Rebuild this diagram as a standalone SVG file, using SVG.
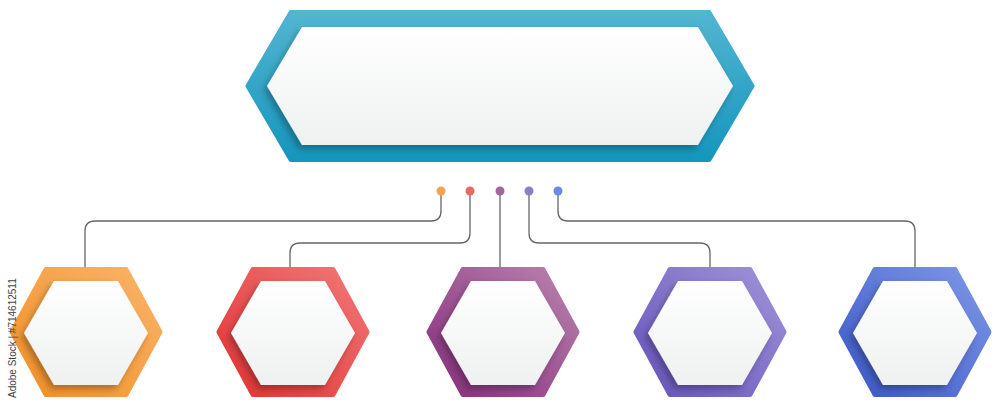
<svg xmlns="http://www.w3.org/2000/svg" width="1000" height="408" viewBox="0 0 1000 408">
<style>
.conn{fill:none;stroke:#666;stroke-width:1.3}
.inner{fill:url(#gWhite);filter:url(#sh)}
.frame{stroke-linejoin:round;stroke-width:5}
.wm{font-family:"Liberation Sans",Arial,sans-serif;font-size:10px;fill:#444}
</style>
<defs>
<linearGradient id="gWhite" x1="0" y1="0" x2="0" y2="1"><stop offset="0" stop-color="#ffffff"/><stop offset="1" stop-color="#eff0f0"/></linearGradient>
<linearGradient id="gTop" x1="0" y1="0" x2="0" y2="1"><stop offset="0" stop-color="#52b5d1"/><stop offset="1" stop-color="#1596bd"/></linearGradient>
<linearGradient id="gOr" x1="0" y1="1" x2="1" y2="0"><stop offset="0" stop-color="#f38f25"/><stop offset="1" stop-color="#f9b46a"/></linearGradient>
<linearGradient id="gRd" x1="0" y1="1" x2="1" y2="0"><stop offset="0" stop-color="#e23232"/><stop offset="1" stop-color="#f17878"/></linearGradient>
<linearGradient id="gPu" x1="0" y1="1" x2="1" y2="0"><stop offset="0" stop-color="#862d7c"/><stop offset="1" stop-color="#b983ae"/></linearGradient>
<linearGradient id="gVi" x1="0" y1="1" x2="1" y2="0"><stop offset="0" stop-color="#6652bc"/><stop offset="1" stop-color="#a094d8"/></linearGradient>
<linearGradient id="gBl" x1="0" y1="1" x2="1" y2="0"><stop offset="0" stop-color="#3a56c8"/><stop offset="1" stop-color="#7f98e7"/></linearGradient>
<filter id="sh" x="-20%" y="-20%" width="140%" height="150%"><feDropShadow dx="-3" dy="4" stdDeviation="3.5" flood-color="#000" flood-opacity="0.3"/></filter>
</defs>

<g id="top-node">
<polygon class="frame" fill="url(#gTop)" stroke="url(#gTop)" points="291,12.5 709,12.5 752,86 709,159.5 291,159.5 248,86"/>
<polygon class="inner" points="302,27 698,27 733,86 698,145 302,145 267,86"/>
</g>

<g id="connectors">
<path class="conn" d="M441,191 V211 Q441,221 431,221 H95 Q85,221 85,231 V268"/>
<path class="conn" d="M470,191 V233 Q470,243 460,243 H300 Q290,243 290,253 V268"/>
<path class="conn" d="M500,191 V268"/>
<path class="conn" d="M529,191 V233 Q529,243 539,243 H700 Q710,243 710,253 V268"/>
<path class="conn" d="M558,191 V211 Q558,221 568,221 H905 Q915,221 915,231 V268"/>
<circle cx="441" cy="191" r="4.5" fill="#f6a24e"/>
<circle cx="470" cy="191" r="4.5" fill="#ee6767"/>
<circle cx="500" cy="191" r="4.5" fill="#a0679a"/>
<circle cx="529" cy="191" r="4.5" fill="#8a80c8"/>
<circle cx="558" cy="191" r="4.5" fill="#6c8ae0"/>
</g>

<g id="node-1" transform="translate(86,332)">
<polygon class="frame" fill="url(#gOr)" stroke="url(#gOr)" points="-40,-62.5 40,-62.5 74,0 40,62.5 -40,62.5 -74,0"/>
<polygon class="inner" points="-32,-51 32,-51 62,1 32,53 -32,53 -62,1"/>
</g>
<g id="node-2" transform="translate(293,332)">
<polygon class="frame" fill="url(#gRd)" stroke="url(#gRd)" points="-40,-62.5 40,-62.5 74,0 40,62.5 -40,62.5 -74,0"/>
<polygon class="inner" points="-32,-51 32,-51 62,1 32,53 -32,53 -62,1"/>
</g>
<g id="node-3" transform="translate(503,332)">
<polygon class="frame" fill="url(#gPu)" stroke="url(#gPu)" points="-40,-62.5 40,-62.5 74,0 40,62.5 -40,62.5 -74,0"/>
<polygon class="inner" points="-32,-51 32,-51 62,1 32,53 -32,53 -62,1"/>
</g>
<g id="node-4" transform="translate(710,332)">
<polygon class="frame" fill="url(#gVi)" stroke="url(#gVi)" points="-40,-62.5 40,-62.5 74,0 40,62.5 -40,62.5 -74,0"/>
<polygon class="inner" points="-32,-51 32,-51 62,1 32,53 -32,53 -62,1"/>
</g>
<g id="node-5" transform="translate(915,332)">
<polygon class="frame" fill="url(#gBl)" stroke="url(#gBl)" points="-40,-62.5 40,-62.5 74,0 40,62.5 -40,62.5 -74,0"/>
<polygon class="inner" points="-32,-51 32,-51 62,1 32,53 -32,53 -62,1"/>
</g>

<text class="wm" transform="translate(15.5,398) rotate(-90)">Adobe Stock | #714612511</text>
</svg>
